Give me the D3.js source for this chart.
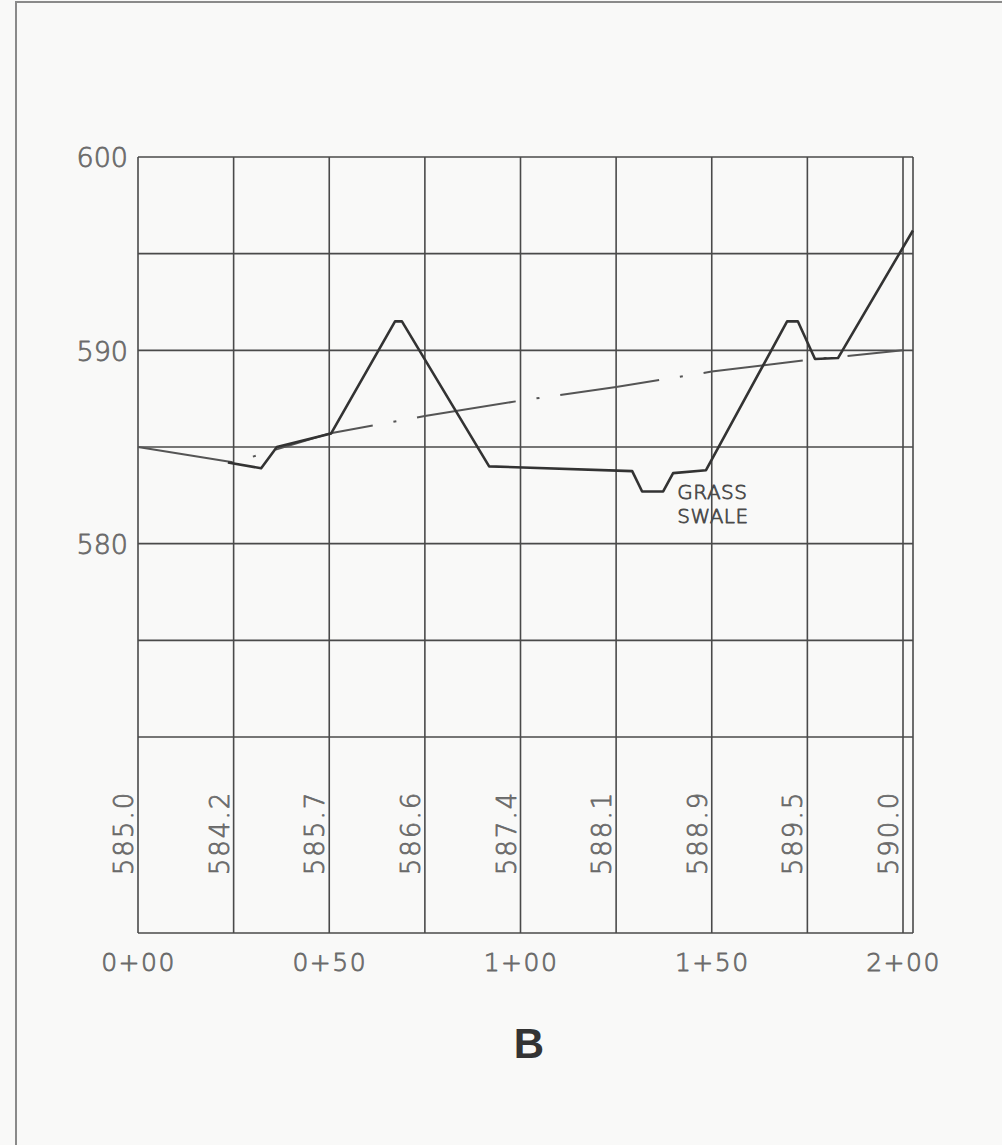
<!DOCTYPE html>
<html><head><meta charset="utf-8">
<script src="https://cdn.jsdelivr.net/npm/d3@7"></script>
<style>
html,body{margin:0;padding:0;background:#f9f9f8;}
svg{display:block;}
</style></head>
<body><svg id="c" width="1002" height="1145"></svg>
<script>
// ---- data ----
const gridStations = [0, 25, 50, 75, 100, 125, 150, 175, 200];
const proposedElev = [585.0, 584.2, 585.7, 586.6, 587.4, 588.1, 588.9, 589.5, 590.0];
const proposedLabels = ["585.0", "584.2", "585.7", "586.6", "587.4", "588.1", "588.9", "589.5", "590.0"];
const existingStation = [23.5, 32.2, 36.3, 50.5, 67.2, 69.0, 91.8, 129.2, 131.8, 137.3, 139.9, 148.5, 169.7, 172.5, 177.0, 183.0, 202.6];
const existingElev   = [584.2, 583.9, 585.0, 585.7, 591.5, 591.5, 584.0, 583.75, 582.7, 582.7, 583.65, 583.8, 591.5, 591.5, 589.55, 589.6, 596.2];
const gridElev = [600, 595, 590, 585, 580, 575, 570];
const elevTicks = [600, 590, 580];
const stationTicks = [0, 50, 100, 150, 200];
const noteLines = ["GRASS", "SWALE"];
const noteAt = {station: 141, elev: 583.1};
const figureLabel = "B";

// ---- layout ----
const svg = d3.select("#c");
const x = d3.scaleLinear().domain([0, 200]).range([138, 903]);
const y = d3.scaleLinear().domain([570, 600]).range([737, 157]);
const plotRight = 913, tableBottom = 933;
const gridColor = "#4a4a4a", textColor = "#6a6a6a";
const font = "'DejaVu Sans ExtraLight','DejaVu Sans',sans-serif";
const textStyle = (sel, color, sw) => sel.attr("font-family", font).attr("font-weight", 200)
  .attr("fill", color).attr("stroke", color).attr("stroke-width", sw).attr("stroke-linejoin", "round");

// outer frame (partially visible)
svg.append("path").attr("d", "M16,1145 L16,2 L1002,2")
  .attr("fill", "none").attr("stroke", "#8a8a8a").attr("stroke-width", 2);

// horizontal grid
svg.append("g").selectAll("line").data(gridElev).join("line")
  .attr("x1", x(0)).attr("x2", plotRight)
  .attr("y1", d => y(d)).attr("y2", d => y(d))
  .attr("stroke", gridColor).attr("stroke-width", 1.6);
// table bottom
svg.append("line").attr("x1", x(0)).attr("x2", plotRight)
  .attr("y1", tableBottom).attr("y2", tableBottom)
  .attr("stroke", gridColor).attr("stroke-width", 1.6);
// vertical grid
svg.append("g").selectAll("line").data(gridStations).join("line")
  .attr("x1", d => x(d)).attr("x2", d => x(d))
  .attr("y1", y(600)).attr("y2", tableBottom)
  .attr("stroke", gridColor).attr("stroke-width", 1.6);
svg.append("line").attr("x1", plotRight).attr("x2", plotRight)
  .attr("y1", y(600)).attr("y2", tableBottom)
  .attr("stroke", gridColor).attr("stroke-width", 1.6);

// y axis labels
const yAxis = d3.axisLeft(y).tickValues(elevTicks).tickSize(0).tickPadding(10);
const gy = svg.append("g").attr("transform", `translate(${x(0)},0)`).call(yAxis);
gy.select(".domain").remove();
textStyle(gy.selectAll("text"), textColor, 0.8).attr("font-size", 27).attr("dy", "0.36em");

// x axis labels (stations)
const fmtStation = s => Math.floor(s / 100) + "+" + String(s % 100).padStart(2, "0");
const xAxis = d3.axisBottom(x).tickValues(stationTicks).tickFormat(fmtStation).tickSize(0).tickPadding(0);
const gx = svg.append("g").attr("transform", `translate(0,${tableBottom + 19})`).call(xAxis);
gx.select(".domain").remove();
textStyle(gx.selectAll("text"), textColor, 0.8).attr("font-size", 25)
  .attr("letter-spacing", 1.5).attr("dy", "0.75em");

// table labels (proposed elevations), rotated
textStyle(svg.append("g").selectAll("text").data(gridStations).join("text"), textColor, 0.8)
  .attr("transform", (d) => `translate(${x(d) - 14},833) rotate(-90)`)
  .attr("text-anchor", "middle").attr("dominant-baseline", "central")
  .attr("font-size", 26).attr("letter-spacing", 2)
  .text((d, i) => proposedLabels[i]);

// proposed grade (dash-dot)
const propLine = d3.line().x((d, i) => x(gridStations[i])).y(d => y(d));
svg.append("path").datum(proposedElev).attr("d", propLine)
  .attr("fill", "none").attr("stroke", "#555").attr("stroke-width", 2)
  .attr("stroke-dasharray", "100,21,3,21").attr("stroke-dashoffset", 4);

// existing ground (solid)
const exLine = d3.line().x((d, i) => x(existingStation[i])).y(d => y(d));
svg.append("path").datum(existingElev).attr("d", exLine)
  .attr("fill", "none").attr("stroke", "#333").attr("stroke-width", 2.6)
  .attr("stroke-linejoin", "round");

// note
textStyle(svg.append("g").selectAll("text").data(noteLines).join("text"), "#4a4a4a", 0.8)
  .attr("x", x(noteAt.station)).attr("y", (d, i) => y(noteAt.elev) + i * 24)
  .attr("dominant-baseline", "hanging")
  .attr("font-size", 20).attr("letter-spacing", 0.5).text(d => d);

// figure label
svg.append("text").attr("x", 529).attr("y", 1058).attr("text-anchor", "middle")
  .attr("font-family", "'Liberation Sans',sans-serif").attr("font-weight", "bold")
  .attr("font-size", 42).attr("fill", "#333").text(figureLabel);
</script></body></html>
